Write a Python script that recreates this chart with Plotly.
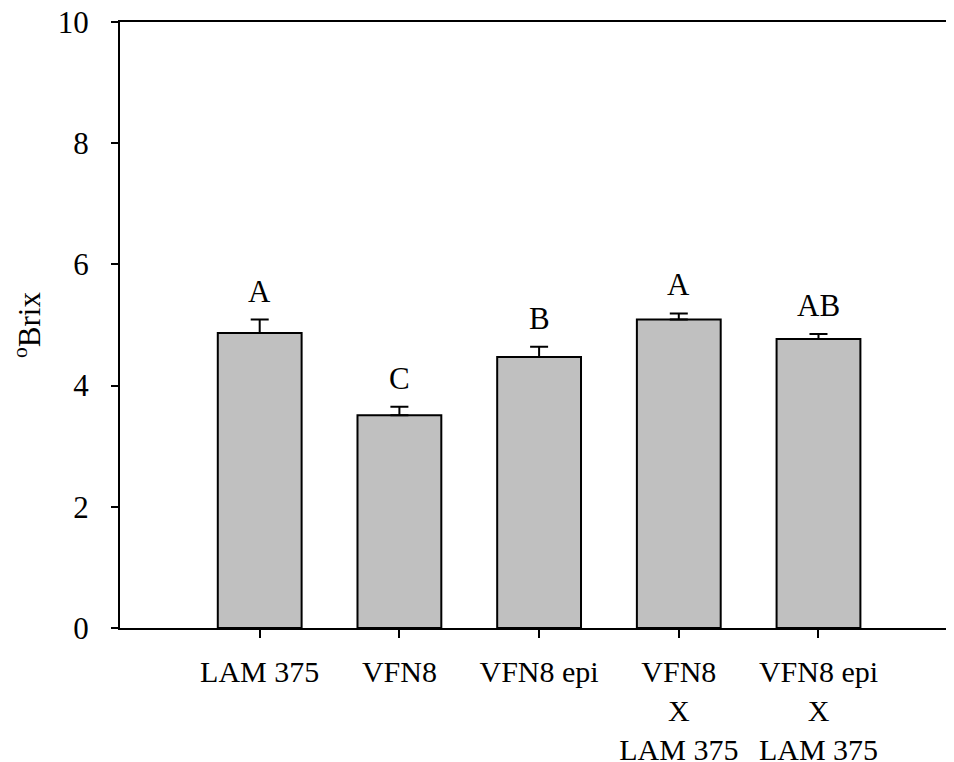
import plotly.graph_objects as go

categories = ["LAM 375", "VFN8", "VFN8 epi", "VFN8<br>X<br>LAM 375", "VFN8 epi<br>X<br>LAM 375"]
brix = [4.87, 3.51, 4.47, 5.09, 4.77]
brix_err = [0.22, 0.14, 0.17, 0.10, 0.08]
letters = ["A", "C", "B", "A", "AB"]
y_ticks = [0, 2, 4, 6, 8, 10]

FONT = "Liberation Serif, Times New Roman, serif"
xpos = list(range(len(categories)))

fig = go.Figure()
fig.add_trace(go.Bar(
    x=xpos, y=brix, width=0.6,
    marker=dict(color="#c0c0c0", line=dict(color="black", width=2)),
    error_y=dict(type="data", symmetric=False, array=brix_err,
                 arrayminus=[0] * len(brix_err), color="black",
                 thickness=2, width=9),
    showlegend=False,
))

for xi, v, e, t in zip(xpos, brix, brix_err, letters):
    fig.add_annotation(x=xi, y=v + e, text=t, showarrow=False,
                       yanchor="bottom", yshift=9,
                       font=dict(family=FONT, size=31, color="black"))

# page body has an 8px margin, so the figure is sized/offset accordingly
fig.update_layout(
    width=946, height=754,
    margin=dict(l=112, r=0, t=14, b=134),
    paper_bgcolor="white", plot_bgcolor="white",
    font=dict(family=FONT, size=31, color="black"),
)
fig.update_xaxes(
    range=[-1.0, 4.97], tickvals=xpos, ticktext=categories,
    showline=True, linecolor="black", linewidth=2, mirror=True,
    ticks="outside", ticklen=8, tickwidth=2, tickcolor="black",
    showgrid=False, zeroline=False, ticklabelstandoff=8,
    automargin=False,
    tickfont=dict(family=FONT, size=30),
)
fig.update_yaxes(
    range=[0, 10], tickvals=y_ticks,
    showline=True, linecolor="black", linewidth=2,
    ticks="outside", ticklen=7, tickwidth=2, tickcolor="black",
    showgrid=False, zeroline=False, ticklabelstandoff=16,
    ticklabeloverflow="allow", automargin=False,
    tickfont=dict(family=FONT, size=31),
    title=dict(text="<sup>o</sup>Brix", font=dict(family=FONT, size=31), standoff=22),
)

fig.write_html("out.html")
